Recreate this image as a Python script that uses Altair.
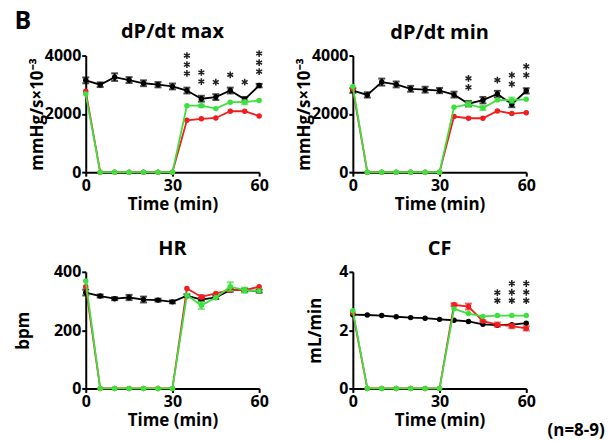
import altair as alt
import pandas as pd

times = [0, 5, 10, 15, 20, 25, 30, 35, 40, 45, 50, 55, 60]

# dP/dt max
dpmax_black = [3150, 3000, 3260, 3160, 3050, 3000, 2940, 2800, 2520, 2575, 2800, 2500, 2970]
dpmax_black_err = [100, 80, 130, 100, 100, 90, 100, 100, 100, 100, 100, 80, 60]
dpmax_red = [2780, 0, 0, 0, 0, 0, 0, 1780, 1830, 1860, 2090, 2090, 1925]
dpmax_red_err = [0, 0, 0, 0, 0, 0, 0, 0, 0, 0, 0, 0, 0]
dpmax_green = [2680, 0, 0, 0, 0, 0, 0, 2280, 2280, 2180, 2400, 2400, 2460]
dpmax_green_err = [0, 0, 0, 0, 0, 0, 0, 0, 40, 0, 0, 70, 0]

# dP/dt min
dpmin_black = [2800, 2650, 3090, 3010, 2860, 2830, 2800, 2660, 2350, 2470, 2680, 2330, 2790]
dpmin_black_err = [80, 90, 120, 100, 100, 100, 90, 100, 90, 110, 110, 100, 90]
dpmin_red = [2850, 0, 0, 0, 0, 0, 0, 1910, 1850, 1850, 2100, 2010, 2040]
dpmin_red_err = [0, 0, 0, 0, 0, 0, 0, 0, 0, 0, 0, 0, 0]
dpmin_green = [2940, 0, 0, 0, 0, 0, 0, 2230, 2330, 2200, 2480, 2470, 2500]
dpmin_green_err = [0, 0, 0, 0, 0, 0, 0, 0, 80, 70, 0, 90, 0]

# HR
hr_black = [329, 317, 308, 312, 305, 303, 297, 318, 305, 312, 337, 337, 334]
hr_black_err = [10, 5, 5, 9, 10, 5, 5, 5, 5, 5, 5, 5, 5]
hr_red = [349, 0, 0, 0, 0, 0, 0, 343, 314, 326, 337, 337, 349]
hr_red_err = [0, 0, 0, 0, 0, 0, 0, 0, 6, 0, 0, 0, 0]
hr_green = [369, 0, 0, 0, 0, 0, 0, 320, 285, 312, 349, 337, 334]
hr_green_err = [0, 0, 0, 0, 0, 0, 0, 0, 12, 0, 15, 9, 0]

# CF
cf_black = [2.53, 2.52, 2.50, 2.46, 2.43, 2.41, 2.37, 2.34, 2.30, 2.20, 2.17, 2.19, 2.24]
cf_black_err = [0, 0, 0, 0, 0, 0, 0, 0, 0, 0, 0, 0, 0]
cf_red = [2.60, 0, 0, 0, 0, 0, 0, 2.87, 2.81, 2.31, 2.19, 2.14, 2.06]
cf_red_err = [0, 0, 0, 0, 0, 0, 0, 0.05, 0.10, 0.03, 0.07, 0.07, 0.07]
cf_green = [2.67, 0, 0, 0, 0, 0, 0, 2.73, 2.57, 2.47, 2.50, 2.50, 2.50]
cf_green_err = [0, 0, 0, 0, 0, 0, 0, 0, 0, 0, 0, 0, 0]

# significance asterisks: time and value of each asterisk's centre
dpmax_star_t = [35, 35, 35, 40, 40, 45, 50, 55, 60, 60, 60]
dpmax_star_v = [4000, 3690, 3385, 3420, 3110, 3090, 3340, 3090, 4070, 3760, 3450]

dpmin_star_t = [40, 40, 50, 55, 55, 60, 60]
dpmin_star_v = [3220, 2910, 3160, 3330, 3020, 3630, 3330]

cf_star_t = [50, 50, 55, 55, 55, 60, 60, 60]
cf_star_v = [3.29, 3.01, 3.60, 3.30, 3.01, 3.60, 3.30, 3.01]

x_ticks = [0, 30, 60]
n_label = "(n=8-9)"

BLACK = "#000000"
RED = "#f01e1e"
GREEN = "#3ee03e"
FONT = "Open Sans"
ASTERISK = "M0,-1L0,1M-0.87,-0.5L0.87,0.5M-0.87,0.5L0.87,-0.5"


def frame(vals, errs):
    d = pd.DataFrame({"t": times, "v": vals, "err": errs})
    d["lo"] = d["v"] - d["err"]
    d["hi"] = d["v"] + d["err"]
    return d


def panel(title, ytitle, ydom, yvals, tpad, series, stars, extra=None):
    xenc = alt.X("t:Q", scale=alt.Scale(domain=[0, 60], nice=False),
                 axis=alt.Axis(values=x_ticks, title="Time (min)", labelFlush=False, titlePadding=3))
    yscale = alt.Scale(domain=ydom, nice=False)
    yaxis = alt.Axis(values=yvals, title=ytitle, titlePadding=tpad, format="d")

    def Y(f):
        return alt.Y(f, scale=yscale, axis=yaxis)

    layers = []
    for vals, errs, color in series:
        d = frame(vals, errs)
        base = alt.Chart(d)
        layers.append(base.mark_line(color=color, strokeWidth=1.8).encode(x=xenc, y=Y("v:Q")))
        de = d[d["err"] > 0]
        if len(de):
            eb = alt.Chart(de)
            layers.append(eb.mark_rule(color=color, strokeWidth=2).encode(x=xenc, y=Y("lo:Q"), y2="hi:Q"))
            layers.append(eb.mark_tick(color=color, thickness=2, size=7, orient="horizontal").encode(x=xenc, y=Y("lo:Q")))
            layers.append(eb.mark_tick(color=color, thickness=2, size=7, orient="horizontal").encode(x=xenc, y=Y("hi:Q")))
        layers.append(base.mark_circle(color=color, size=30, opacity=1).encode(x=xenc, y=Y("v:Q")))
    if stars is not None:
        st, sv = stars
        sd = pd.DataFrame({"t": st, "v": sv})
        layers.append(alt.Chart(sd).mark_point(shape=ASTERISK, filled=False, size=46, strokeWidth=1.5,
                                               color="#222222", opacity=1)
                      .encode(x=xenc, y=Y("v:Q")))
    if extra is not None:
        layers.append(alt.Chart(pd.DataFrame({"label": [extra]}))
                      .mark_text(font=FONT, fontSize=17, fontWeight="bold", color="black", align="center")
                      .encode(x=alt.value(224), y=alt.value(160), text="label:N"))
    return alt.layer(*layers).properties(
        width=174, height=117,
        title=alt.TitleParams(title, fontSize=20, fontWeight="bold", font=FONT, color="black", offset=5),
    )


ytitle_dp = "mmHg/s×10⁻³"

p1 = panel("dP/dt max", ytitle_dp, [0, 4000], [0, 2000, 4000], -2,
           [(dpmax_black, dpmax_black_err, BLACK), (dpmax_red, dpmax_red_err, RED),
            (dpmax_green, dpmax_green_err, GREEN)],
           (dpmax_star_t, dpmax_star_v))
p2 = panel("dP/dt min", ytitle_dp, [0, 4000], [0, 2000, 4000], -2,
           [(dpmin_black, dpmin_black_err, BLACK), (dpmin_red, dpmin_red_err, RED),
            (dpmin_green, dpmin_green_err, GREEN)],
           (dpmin_star_t, dpmin_star_v))
p3 = panel("HR", "bpm", [0, 400], [0, 200, 400], 21,
           [(hr_black, hr_black_err, BLACK), (hr_red, hr_red_err, RED),
            (hr_green, hr_green_err, GREEN)],
           None)
p4 = panel("CF", "mL/min", [0, 4], [0, 2, 4], 14,
           [(cf_black, cf_black_err, BLACK), (cf_red, cf_red_err, RED),
            (cf_green, cf_green_err, GREEN)],
           (cf_star_t, cf_star_v), extra=n_label)

chart = alt.concat(p1, p2, p3, p4, columns=2,
                   spacing=alt.RowColnumber(row=27, column=26)).properties(
    title=alt.TitleParams("B", anchor="start", fontSize=25, fontWeight="bold", font=FONT,
                          color="black", offset=-12),
    padding={"left": 6, "top": 0, "right": 0, "bottom": 0},
).configure_view(stroke=None).configure_axis(
    domainColor="black", domainWidth=2, tickColor="black", tickWidth=2, tickSize=4,
    labelPadding=1, labelColor="black", labelFont=FONT, labelFontSize=16, labelFontWeight="bold",
    titleFont=FONT, titleFontSize=17, titleFontWeight="bold", titleColor="black", grid=False,
)

chart.save("out.html", embed_options={"renderer": "svg", "actions": False})
